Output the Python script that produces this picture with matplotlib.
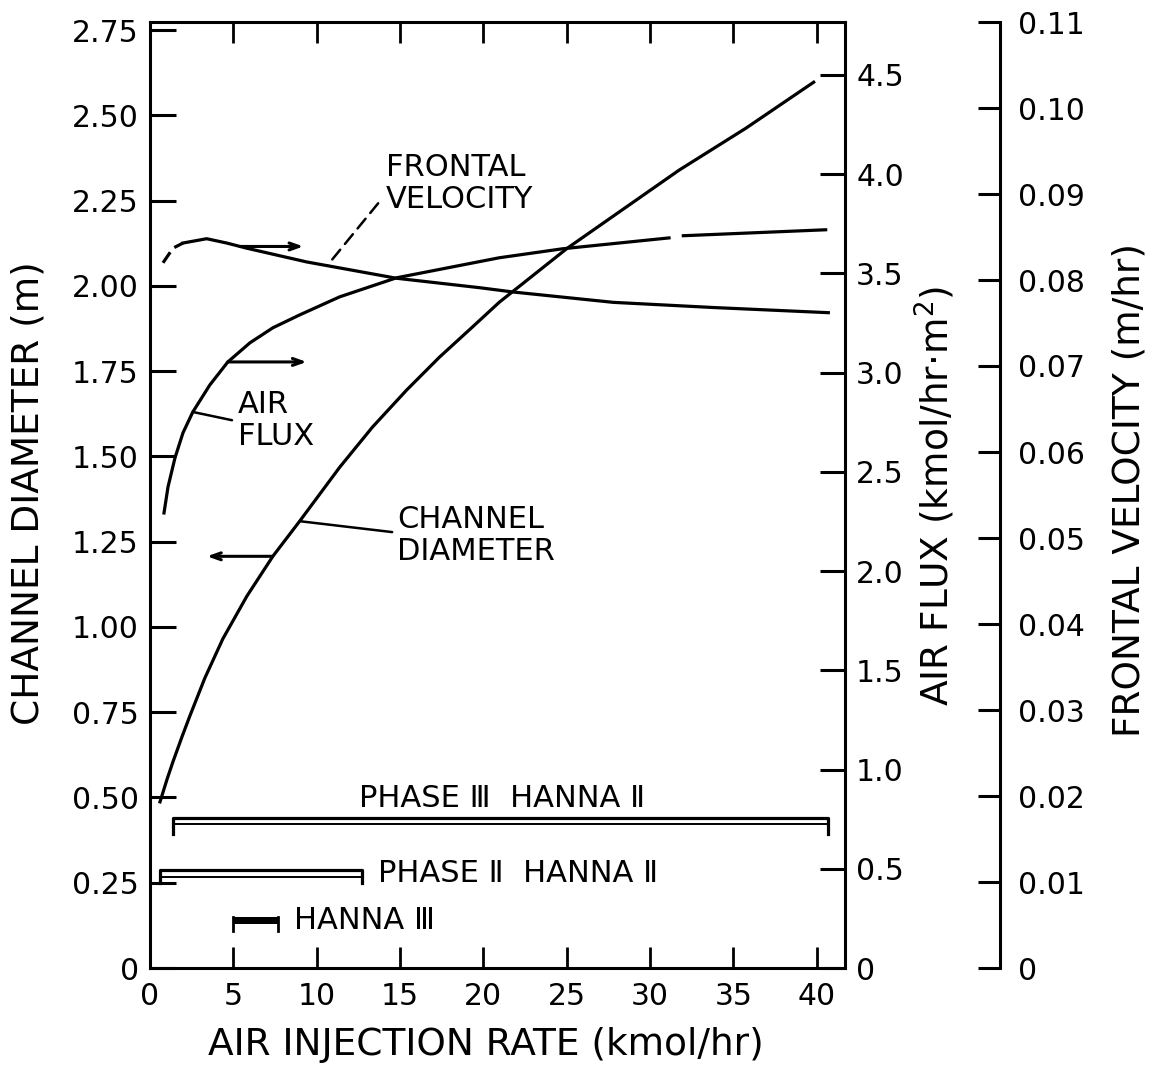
import numpy as np
import matplotlib.pyplot as plt

plt.rcParams['font.family'] = 'DejaVu Sans'

# channel diameter (m) vs air injection rate (kmol/hr)
diam_rate = [0.6, 1.02, 1.38, 1.92, 2.4, 3.29, 4.37, 5.81, 7.37, 8.98, 11.38,
             13.35, 15.39, 17.37, 19.34, 20.96, 25.03, 31.74, 35.75, 39.82]
diam_m = [0.487, 0.553, 0.605, 0.678, 0.740, 0.850, 0.965, 1.090, 1.207, 1.310, 1.468,
          1.586, 1.694, 1.791, 1.879, 1.952, 2.110, 2.339, 2.462, 2.597]

# air flux (kmol/hr.m2), line has a break between the last two segments
flux_rate = [0.84, 1.08, 1.50, 1.98, 2.57, 3.59, 4.67, 5.99, 7.37, 8.98, 11.38,
             14.79, 20.96, 24.73, 31.14]
flux_val = [2.293, 2.424, 2.571, 2.697, 2.802, 2.938, 3.054, 3.150, 3.226, 3.291, 3.382,
            3.478, 3.579, 3.624, 3.679]
flux_rate_end = [32.0, 40.54]
flux_val_end = [3.690, 3.720]

# frontal velocity (m/hr), dashed for the first three points
vel_rate = [0.78, 1.38, 1.98, 3.4, 4.6, 5.8, 9.4, 14.8, 19.8, 21.8, 27.8, 33.8, 40.7]
vel_val = [0.0820, 0.0837, 0.0843, 0.0848, 0.0843, 0.0837, 0.0821, 0.0802,
           0.0791, 0.0786, 0.0774, 0.0768, 0.0762]

# test ranges of air injection rate
phase_names = ['PHASE Ⅲ  HANNA Ⅱ', 'PHASE Ⅱ  HANNA Ⅱ', 'HANNA Ⅲ']
phase_start = [1.4, 0.6, 5.0]
phase_end = [40.7, 12.7, 7.7]

x_ticks = [0, 5, 10, 15, 20, 25, 30, 35, 40]
diam_ticks = [0, 0.25, 0.50, 0.75, 1.00, 1.25, 1.50, 1.75, 2.00, 2.25, 2.50, 2.75]
diam_labels = ['0', '0.25', '0.50', '0.75', '1.00', '1.25', '1.50', '1.75',
               '2.00', '2.25', '2.50', '2.75']
flux_ticks = [0, 0.5, 1.0, 1.5, 2.0, 2.5, 3.0, 3.5, 4.0, 4.5]
flux_labels = ['0', '0.5', '1.0', '1.5', '2.0', '2.5', '3.0', '3.5', '4.0', '4.5']
vel_ticks = [0, 0.01, 0.02, 0.03, 0.04, 0.05, 0.06, 0.07, 0.08, 0.09, 0.10, 0.11]
vel_labels = ['0', '0.01', '0.02', '0.03', '0.04', '0.05', '0.06', '0.07',
              '0.08', '0.09', '0.10', '0.11']

LW = 2.3
TICK_FS = 21.5
TEXT_FS = 22
LABEL_FS = 27

fig = plt.figure(figsize=(11.63, 10.72), dpi=100)
ax = fig.add_axes([150 / 1163, 104 / 1072, 695 / 1163, 946 / 1072])
ax_flux = ax.twinx()
ax_vel = ax.twinx()
ax_vel.spines['right'].set_position(('axes', 850 / 695))

for s in ['top', 'bottom', 'left']:
    ax.spines[s].set_linewidth(2.2)
ax.spines['right'].set_visible(False)
for a in (ax_flux, ax_vel):
    for s in ['top', 'bottom', 'left']:
        a.spines[s].set_visible(False)
    a.spines['right'].set_linewidth(2.2)

ax.set_xlim(0, 41.7)
ax.set_ylim(0, 2.7735)
ax_flux.set_ylim(0, 4.767)
ax_vel.set_ylim(0, 0.11)

ax.set_xticks(x_ticks)
ax.set_xticklabels([str(t) for t in x_ticks])
ax.set_yticks(diam_ticks)
ax.set_yticklabels(diam_labels)
ax_flux.set_yticks(flux_ticks)
ax_flux.set_yticklabels(flux_labels)
ax_vel.set_yticks(vel_ticks)
ax_vel.set_yticklabels(vel_labels)

ax.tick_params(axis='x', direction='in', top=True, length=15, width=2,
               pad=10, labelsize=TICK_FS)
ax.tick_params(axis='y', direction='in', length=19, width=2.2, pad=8,
               labelsize=TICK_FS)
ax_flux.tick_params(axis='y', direction='in', length=18, width=2.2, pad=8,
                    labelsize=TICK_FS)
ax_vel.tick_params(axis='y', direction='in', length=16, width=2.2, pad=13,
                   labelsize=TICK_FS)

ax.set_xlabel('AIR INJECTION RATE (kmol/hr)', fontsize=LABEL_FS, va='center')
ax.xaxis.set_label_coords(0.483, -0.0814)
ax.set_ylabel('CHANNEL DIAMETER (m)', fontsize=LABEL_FS, rotation=90,
              va='center', ha='center')
ax.yaxis.set_label_coords(-0.1755, 0.502)
ax_flux.set_ylabel('AIR FLUX (kmol/hr·m$^2$)', fontsize=LABEL_FS, rotation=90,
                   va='center', ha='center')
ax_flux.yaxis.set_label_coords(1.1295, 0.499)
ax_vel.set_ylabel('FRONTAL VELOCITY (m/hr)', fontsize=LABEL_FS, rotation=90,
                  va='center', ha='center')
ax_vel.yaxis.set_label_coords(1.41, 0.505)

# curves
ax.plot(diam_rate, diam_m, color='k', lw=LW, solid_joinstyle='round')
ax_flux.plot(flux_rate, flux_val, color='k', lw=LW, solid_joinstyle='round')
ax_flux.plot(flux_rate_end, flux_val_end, color='k', lw=LW)
ax_vel.plot(vel_rate[:3], vel_val[:3], color='k', lw=LW, ls=(0, (4, 2)))
ax_vel.plot(vel_rate[2:], vel_val[2:], color='k', lw=LW, solid_joinstyle='round')

# arrows pointing to the matching axis
arrow = dict(arrowstyle='->,head_length=0.7,head_width=0.25', lw=2.2,
             color='k', shrinkA=0, shrinkB=0)
v0 = np.interp(5.4, vel_rate, vel_val)
ax_vel.annotate('', xy=(9.2, v0), xytext=(5.4, v0), arrowprops=arrow)
ax_flux.annotate('', xy=(9.4, flux_val[6]), xytext=(flux_rate[6], flux_val[6]),
                 arrowprops=arrow)
ax.annotate('', xy=(3.42, diam_m[8]), xytext=(diam_rate[8], diam_m[8]),
            arrowprops=arrow)

# curve captions with leader lines
ax.text(14.17, 2.299, 'FRONTAL\nVELOCITY', fontsize=TEXT_FS, ha='left',
        va='center', linespacing=1.12)
ax.text(5.29, 1.606, 'AIR\nFLUX', fontsize=TEXT_FS, ha='left',
        va='center', linespacing=1.12)
ax.text(14.83, 1.268, 'CHANNEL\nDIAMETER', fontsize=TEXT_FS, ha='left',
        va='center', linespacing=1.12)

lead = dict(arrowstyle='-', lw=1.8, color='k', shrinkA=0, shrinkB=0)
v1 = np.interp(10.63, vel_rate, vel_val)
ax.annotate('', xy=(10.63, v1), xycoords=ax_vel.transData,
            xytext=(13.69, 2.242), textcoords='data',
            arrowprops=dict(lead, linestyle=(0, (5, 3))))
ax.annotate('', xy=(flux_rate[4], flux_val[4]), xycoords=ax_flux.transData,
            xytext=(4.92, 1.606), textcoords='data', arrowprops=lead)
ax.annotate('', xy=(diam_rate[9], diam_m[9]), xytext=(14.53, 1.278),
            arrowprops=lead)

# range bars for the field tests
top_lines = [0.440, 0.287, 0.149]
low_lines = [0.422, 0.267, 0.129]
bracket_ends = [0.393, 0.249, 0.108]
for i in range(2):
    s, e = phase_start[i], phase_end[i]
    ax.plot([s, s, e, e], [bracket_ends[i], top_lines[i], top_lines[i], bracket_ends[i]],
            color='k', lw=2.3)
    ax.plot([s, e], [low_lines[i], low_lines[i]], color='k', lw=1.4)
s, e = phase_start[2], phase_end[2]
ax.fill_between([s, e], low_lines[2], top_lines[2], color='k', lw=0)
ax.plot([s, s], [bracket_ends[2], top_lines[2]], color='k', lw=2)
ax.plot([e, e], [bracket_ends[2], top_lines[2]], color='k', lw=2)

ax.text(21.14, 0.498, phase_names[0], fontsize=TEXT_FS, ha='center', va='center')
ax.text(13.69, 0.278, phase_names[1], fontsize=TEXT_FS, ha='left', va='center')
ax.text(8.65, 0.138, phase_names[2], fontsize=TEXT_FS, ha='left', va='center')

fig.savefig('out.png', dpi=100, facecolor='white')
